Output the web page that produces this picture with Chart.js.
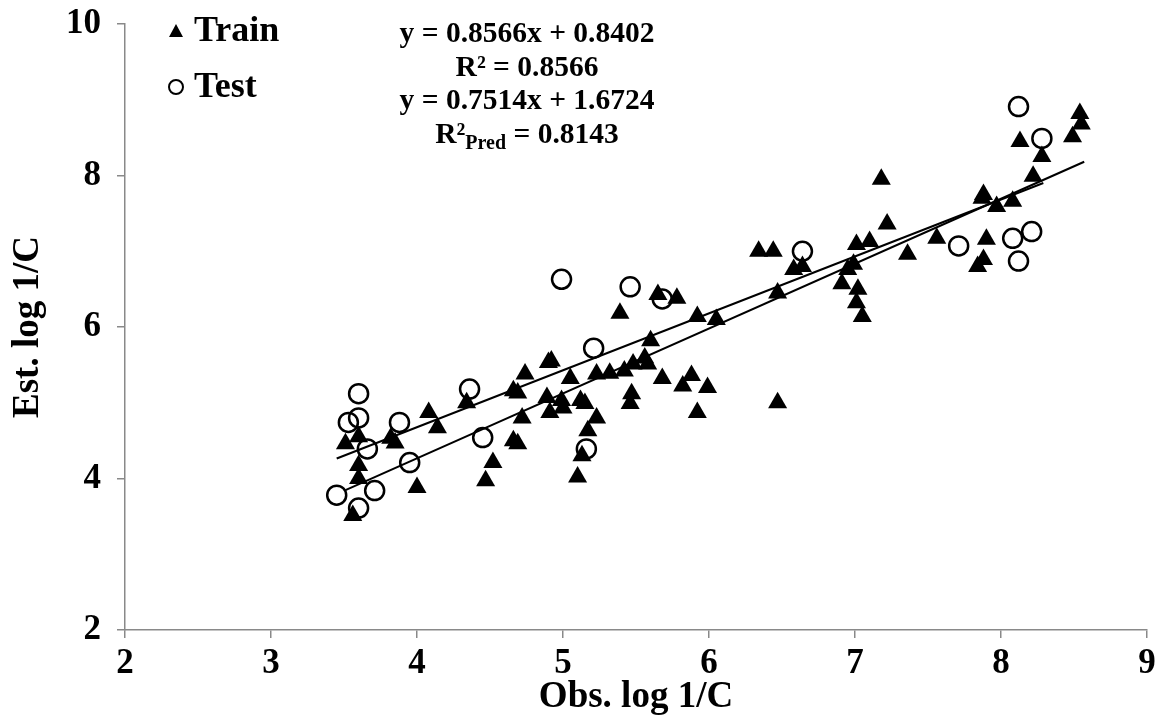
<!DOCTYPE html>
<html>
<head>
<meta charset="utf-8">
<script src="https://cdn.jsdelivr.net/npm/chart.js@4"></script>
<style>
  body { margin: 0; background: #fff; }
  #wrap { width: 1163px; height: 720px; }
</style>
</head>
<body>
<div id="wrap"><canvas id="myChart" width="1163" height="720"></canvas></div>
<script>
// observed (x) and estimated (y) log 1/C, training set
var trainObs = [3.51, 3.60, 3.60, 3.60, 3.56, 3.82, 3.85, 4.08, 4.14, 4.34, 4.00, 4.52, 4.47,
  4.66, 4.69, 4.72, 4.66, 4.69, 4.74, 4.90, 4.92, 4.89, 4.91, 4.99, 5.00, 5.05, 5.12, 5.15,
  5.23, 5.17, 5.13, 5.10, 5.23, 5.32, 5.42, 5.48, 5.47, 5.46, 5.56, 5.58, 5.60, 5.39, 5.65,
  5.78, 5.92, 5.68, 5.82, 5.88, 5.92, 5.99, 6.05, 6.47, 6.47, 6.34, 6.44, 6.58, 6.64, 6.91,
  6.95, 6.99, 7.02, 7.01, 7.05, 7.01, 7.10, 7.18, 7.22, 7.36, 7.56, 7.88, 7.87, 7.97, 8.08,
  7.90, 7.88, 7.84, 8.22, 8.28, 8.13, 8.49, 8.54, 8.55];
var trainEst = [4.46, 4.55, 4.17, 4.00, 3.51, 4.53, 4.47, 4.87, 4.67, 5.00, 3.88, 4.21, 3.97,
  4.50, 4.46, 4.80, 5.16, 5.13, 5.38, 5.53, 5.55, 5.07, 4.87, 5.03, 4.93, 5.32, 5.03, 4.99,
  4.80, 4.63, 4.30, 4.02, 5.38, 5.39, 5.42, 5.51, 5.12, 4.99, 5.59, 5.51, 5.82, 6.18, 6.43,
  6.38, 6.14, 5.32, 5.22, 5.36, 4.87, 5.20, 6.10, 6.45, 5.00, 7.00, 7.00, 6.76, 6.80, 6.57,
  6.76, 6.83, 6.50, 6.32, 6.14, 7.09, 7.13, 7.95, 7.36, 6.96, 7.17, 7.75, 7.70, 7.59, 7.66,
  7.16, 6.89, 6.80, 7.99, 8.25, 8.45, 8.51, 8.82, 8.68];

// test set
var testObs = [3.60, 3.60, 3.53, 3.88, 4.36, 3.66, 3.95, 4.45, 3.45, 3.71, 3.60, 4.99, 5.46,
  5.68, 5.21, 5.16, 6.64, 7.71, 8.08, 8.21, 8.12, 8.12, 8.28];
var testEst = [5.12, 4.80, 4.74, 4.74, 5.18, 4.39, 4.21, 4.54, 3.78, 3.84, 3.61, 6.63, 6.53,
  6.37, 5.72, 4.39, 7.00, 7.07, 7.17, 7.26, 6.87, 8.91, 8.49];

// trend lines as printed on the chart, with the x range they cover
var trainFit = { slope: 0.8566, intercept: 0.8402, from: 3.51, to: 8.57 };
var testFit = { slope: 0.7514, intercept: 1.6724, from: 3.45, to: 8.29 };

var xTicks = [2, 3, 4, 5, 6, 7, 8, 9];
var yTicks = [2, 4, 6, 8, 10];

var eqLines = ["y = 0.8566x + 0.8402", "R² = 0.8566", "y = 0.7514x + 1.6724", "R²|Pred| = 0.8143"];

function toPoints(xs, ys) {
  return xs.map((x, i) => ({ x: x, y: ys[i] }));
}
function fitLine(f) {
  return [
    { x: f.from, y: f.slope * f.from + f.intercept },
    { x: f.to, y: f.slope * f.to + f.intercept },
  ];
}

var serif = "'Liberation Serif', 'Times New Roman', serif";
var axisGrey = "#898989";

// legend + equations drawn inside the plot
var notesPlugin = {
  id: "notes",
  afterDraw: (chart) => {
    const ctx = chart.ctx;
    ctx.save();
    ctx.fillStyle = "#000";
    ctx.strokeStyle = "#000";

    // legend markers
    ctx.beginPath();
    ctx.moveTo(176, 24);
    ctx.lineTo(183, 37);
    ctx.lineTo(169, 37);
    ctx.closePath();
    ctx.fill();
    ctx.lineWidth = 2;
    ctx.beginPath();
    ctx.arc(176, 87, 7, 0, Math.PI * 2);
    ctx.stroke();

    ctx.font = "bold 36px " + serif;
    ctx.textAlign = "left";
    ctx.textBaseline = "middle";
    ctx.fillText("Train", 194, 32);
    ctx.fillText("Test", 194, 88);

    // regression equations, centred
    const cx = 527;
    const ys = [34, 68, 101, 135];
    const big = "bold 29.5px " + serif;
    const small = "bold 20px " + serif;
    eqLines.forEach((line, i) => {
      const parts = line.split("|");
      ctx.font = big;
      if (parts.length === 1) {
        ctx.textAlign = "center";
        ctx.fillText(line, cx, ys[i]);
        return;
      }
      const w1 = ctx.measureText(parts[0]).width;
      const w3 = ctx.measureText(parts[2]).width;
      ctx.font = small;
      const w2 = ctx.measureText(parts[1]).width;
      let x = cx - (w1 + w2 + w3) / 2;
      ctx.textAlign = "left";
      ctx.font = big;
      ctx.fillText(parts[0], x, ys[i]);
      x += w1;
      ctx.font = small;
      ctx.fillText(parts[1], x, ys[i] + 9);
      x += w2;
      ctx.font = big;
      ctx.fillText(parts[2], x, ys[i]);
    });
    ctx.restore();
  },
};

var ctx = document.getElementById("myChart").getContext("2d");
var chart = new Chart(ctx, {
  type: "scatter",
  data: {
    datasets: [
      {
        label: "Train fit",
        type: "line",
        data: fitLine(trainFit),
        borderColor: "#000",
        borderWidth: 2,
        pointRadius: 0,
        fill: false,
      },
      {
        label: "Test fit",
        type: "line",
        data: fitLine(testFit),
        borderColor: "#000",
        borderWidth: 2,
        pointRadius: 0,
        fill: false,
      },
      {
        label: "Train",
        data: toPoints(trainObs, trainEst),
        pointStyle: "triangle",
        pointRadius: 11,
        backgroundColor: "#000",
        borderColor: "#000",
        borderWidth: 0,
      },
      {
        label: "Test",
        data: toPoints(testObs, testEst),
        pointStyle: "circle",
        pointRadius: 9.5,
        backgroundColor: "rgba(0,0,0,0)",
        borderColor: "#000",
        borderWidth: 2.5,
      },
    ],
  },
  options: {
    responsive: false,
    animation: false,
    layout: { padding: { top: 24, right: 16, left: 0, bottom: 0 } },
    plugins: {
      legend: { display: false },
      tooltip: { enabled: false },
    },
    scales: {
      x: {
        type: "linear",
        min: 2,
        max: 9,
        afterBuildTicks: (s) => { s.ticks = xTicks.map((v) => ({ value: v })); },
        afterFit: (s) => {
          s.height = 90;
          s.paddingLeft = 0;
          s.paddingRight = 0;
        },
        ticks: {
          color: "#000",
          font: { family: serif, size: 35, weight: "bold" },
          padding: 5,
        },
        grid: { drawOnChartArea: false, drawTicks: true, tickLength: 8, color: axisGrey, lineWidth: 1.5 },
        border: { display: true, color: axisGrey, width: 1.5 },
        title: {
          display: true,
          text: "Obs. log 1/C",
          color: "#000",
          font: { family: serif, size: 37, weight: "bold" },
          padding: { top: 0, bottom: 0 },
        },
      },
      y: {
        type: "linear",
        min: 2,
        max: 10,
        afterBuildTicks: (s) => { s.ticks = yTicks.map((v) => ({ value: v })); },
        afterFit: (s) => {
          s.width = 125;
          s.paddingTop = 0;
          s.paddingBottom = 0;
        },
        ticks: {
          color: "#000",
          font: { family: serif, size: 35, weight: "bold" },
          padding: 16,
        },
        grid: { drawOnChartArea: false, drawTicks: true, tickLength: 8, color: axisGrey, lineWidth: 1.5 },
        border: { display: true, color: axisGrey, width: 1.5 },
        title: {
          display: true,
          text: "Est. log 1/C",
          color: "#000",
          font: { family: serif, size: 37, weight: "bold" },
          padding: { top: 6, bottom: 0 },
        },
      },
    },
  },
  plugins: [notesPlugin],
});
</script>
</body>
</html>
